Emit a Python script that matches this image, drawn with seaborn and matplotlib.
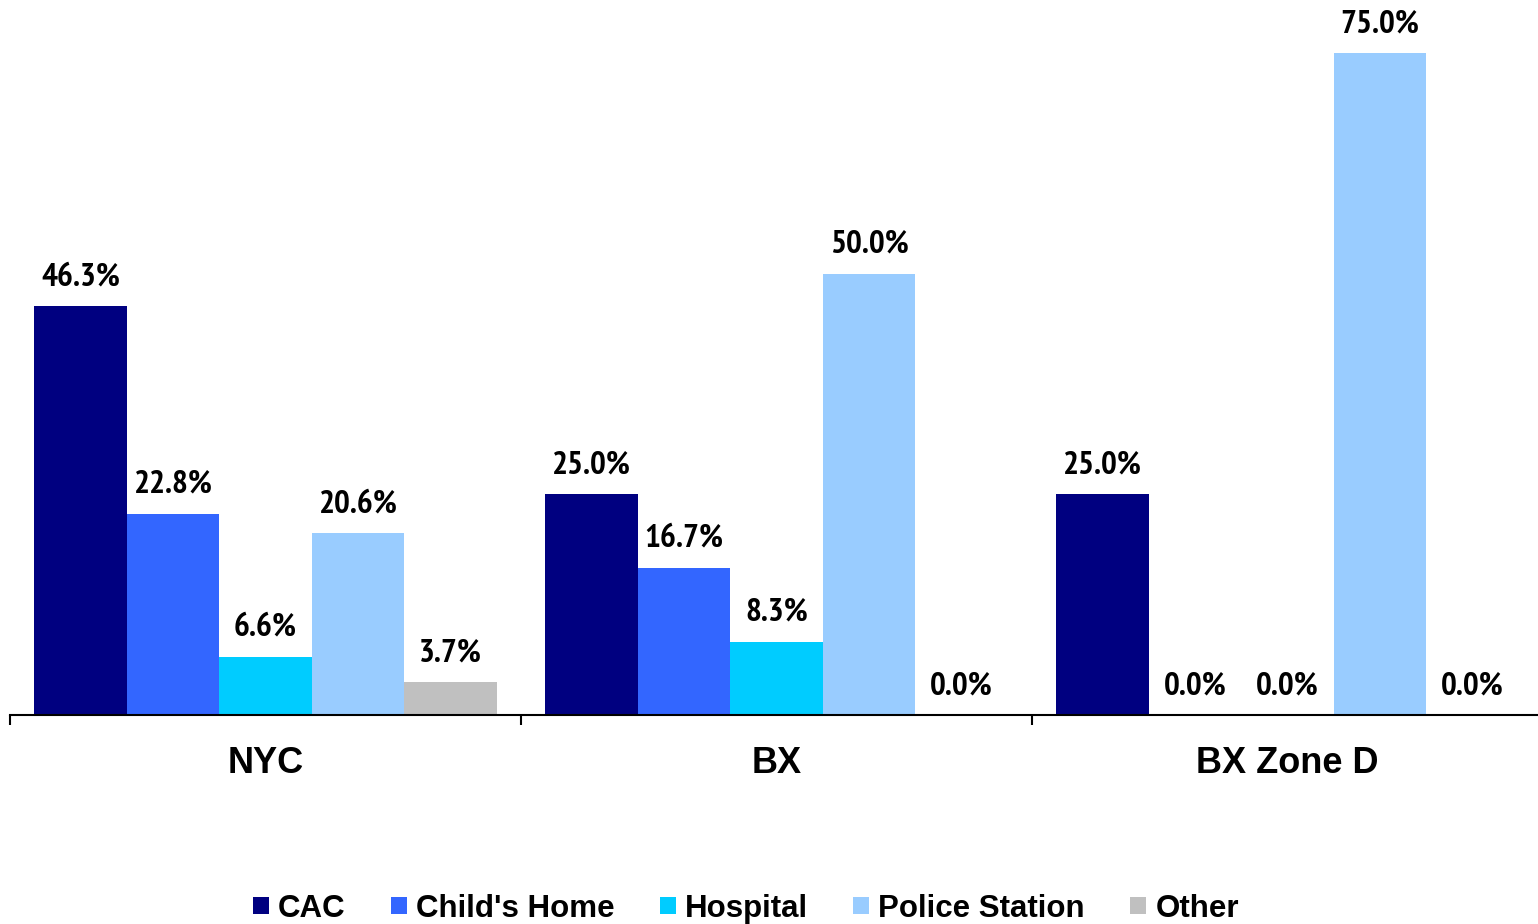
import matplotlib
matplotlib.use("Agg")
import matplotlib.pyplot as plt
import seaborn as sns
import pandas as pd

groups = ["NYC", "BX", "BX Zone D"]
series = ["CAC", "Child's Home", "Hospital", "Police Station", "Other"]
cac = [46.3, 25.0, 25.0]
childs_home = [22.8, 16.7, 0.0]
hospital = [6.6, 8.3, 0.0]
police_station = [20.6, 50.0, 75.0]
other = [3.7, 0.0, 0.0]
colors = ["#000080", "#3366FF", "#00CCFF", "#99CCFF", "#C0C0C0"]

values = [cac, childs_home, hospital, police_station, other]
rows = []
for s, vals in zip(series, values):
    for g, v in zip(groups, vals):
        rows.append({"group": g, "series": s, "value": v})
df = pd.DataFrame(rows)

sns.set_theme(style="white")
narrow = ["Arial Narrow", "Liberation Sans Narrow", "PT Sans Narrow",
          "Archivo Narrow", "Roboto Condensed", "DejaVu Sans"]
plt.rcParams["font.family"] = ["Liberation Sans", "DejaVu Sans"]
plt.rcParams["text.color"] = "black"
plt.rcParams["xtick.color"] = "black"
plt.rcParams["xtick.labelcolor"] = "black"

fig = plt.figure(figsize=(15.38, 9.24), dpi=100)
ax = fig.add_axes([10 / 1538, 209 / 924, 1533 / 1538, 715 / 924])

sns.barplot(data=df, x="group", y="value", hue="series", order=groups,
            hue_order=series, palette=colors, width=0.906, gap=0,
            saturation=1, linewidth=0, ax=ax, legend=True)

for cont in ax.containers:
    ax.bar_label(cont, fmt="%.1f%%", padding=10, fontsize=24,
                 fontweight="bold", family=narrow, fontstretch="condensed",
                 color="black")

ax.set_ylim(0, 81)
ax.set_xlim(-0.5, 2.5)
ax.set_yticks([])
ax.set_ylabel("")
ax.set_xlabel("")
for sp in ["top", "right", "left"]:
    ax.spines[sp].set_visible(False)
ax.spines["bottom"].set_color("black")
ax.spines["bottom"].set_linewidth(1.5)

ax.set_xticks([-0.5, 0.5, 1.5, 2.5], ["", "", "", ""])
ax.set_xticks([0, 1, 2], groups, minor=True, fontweight="bold",
              fontsize=26, color="black")
ax.tick_params(axis="x", which="major", length=7, width=1.5, color="black",
               direction="out", bottom=True)
ax.tick_params(axis="x", which="minor", length=0, pad=22)

ax.legend_.remove()
handles, labels = ax.get_legend_handles_labels()
leg = fig.legend(handles[:5], labels[:5], loc="lower center",
                 bbox_to_anchor=(746 / 1538, -0.030), ncol=5, frameon=False,
                 handlelength=0.5, handleheight=0.5, handletextpad=0.3,
                 columnspacing=1.45,
                 prop={"family": ["Liberation Sans", "DejaVu Sans"],
                       "weight": "bold", "size": 22.5})

fig.savefig("out.png", dpi=100)
